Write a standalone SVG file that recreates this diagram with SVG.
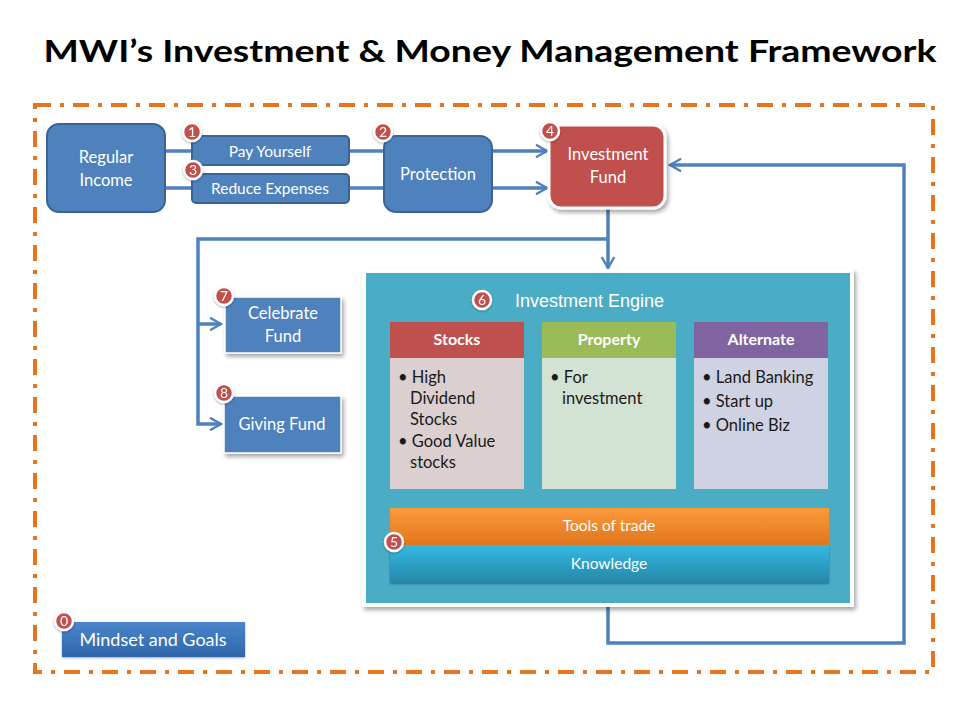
<svg xmlns="http://www.w3.org/2000/svg" width="960" height="720" viewBox="0 0 960 720">
<defs>
<style>
.t{font-family:Lato,"Liberation Sans",sans-serif;fill:#fff;text-anchor:middle}
.b{font-family:Lato,"Liberation Sans",sans-serif;fill:#1a1a1a;font-size:16.5px}
.blue{fill:#4F81BD;stroke:#3A6396;stroke-width:2}
.conn{fill:none;stroke:#4F81BD;stroke-width:3.5}
.badge circle{fill:#C0504D;stroke:#fff;stroke-width:2.5}
.badge text{font-family:Lato,"Liberation Sans",sans-serif;fill:#fff;font-size:14px;text-anchor:middle}
</style>
<filter id="sh" x="-10%" y="-10%" width="130%" height="130%"><feDropShadow dx="2" dy="3" stdDeviation="2" flood-color="#000" flood-opacity="0.35"/></filter>
<filter id="bs" x="-50%" y="-50%" width="200%" height="200%"><feDropShadow dx="0" dy="1" stdDeviation="1" flood-color="#000" flood-opacity="0.35"/></filter>
<marker id="ar" viewBox="0 0 10 10" refX="8" refY="5" markerWidth="4.5" markerHeight="4.5" orient="auto" markerUnits="strokeWidth"><path d="M1,1 L8,5 L1,9" fill="none" stroke="#4F81BD" stroke-width="1.5"/></marker>
<linearGradient id="gMind" x1="0" y1="0" x2="0" y2="1"><stop offset="0" stop-color="#4A86CC"/><stop offset="1" stop-color="#2F66A8"/></linearGradient>
<linearGradient id="gTools" x1="0" y1="0" x2="0" y2="1"><stop offset="0" stop-color="#FB9A3C"/><stop offset="1" stop-color="#E0761C"/></linearGradient>
<linearGradient id="gKnow" x1="0" y1="0" x2="0" y2="1"><stop offset="0" stop-color="#33B9E2"/><stop offset="1" stop-color="#2787A8"/></linearGradient>
</defs>
<rect width="960" height="720" fill="#fff"/>
<text x="490" y="62" font-family="Lato,'Liberation Sans',sans-serif" font-weight="bold" font-size="31" fill="#000" text-anchor="middle" textLength="893" lengthAdjust="spacingAndGlyphs">MWI’s Investment &amp; Money Management Framework</text>
<rect x="35" y="105" width="898" height="567" fill="none" stroke="#E8741E" stroke-width="4" stroke-dasharray="16 9 4 9"/>

<g id="connectors">
<path class="conn" d="M165,151 H192 M165,188 H192 M349,151 H384 M349,188 H384"/>
<path class="conn" d="M492,151 H547" marker-end="url(#ar)"/>
<path class="conn" d="M492,188 H547" marker-end="url(#ar)"/>
<path class="conn" d="M608,208 V268" marker-end="url(#ar)"/>
<path class="conn" d="M608,239 H198 V424 H221" marker-end="url(#ar)"/>
<path class="conn" d="M198,324 H221" marker-end="url(#ar)"/>
<path class="conn" d="M608,606 V643 H904 V165 H670" marker-end="url(#ar)"/>
</g>

<g id="regular-income">
<rect class="blue" x="47" y="124" width="118" height="88" rx="12"/>
<text class="t" x="106" y="163" font-size="16.5">Regular</text>
<text class="t" x="106" y="186" font-size="16.5">Income</text>
</g>
<g id="pay-yourself">
<rect class="blue" x="192" y="136" width="157" height="29" rx="4"/>
<text class="t" x="270" y="157" font-size="15.5">Pay Yourself</text>
<g class="badge" filter="url(#bs)"><circle cx="192" cy="132" r="9"/><text x="192" y="137">1</text></g>
</g>
<g id="reduce-expenses">
<rect class="blue" x="192" y="174" width="157" height="29" rx="4"/>
<text class="t" x="270" y="194" font-size="15.5">Reduce Expenses</text>
<g class="badge" filter="url(#bs)"><circle cx="193" cy="170" r="9"/><text x="193" y="175">3</text></g>
</g>
<g id="protection">
<rect class="blue" x="384" y="136" width="108" height="76" rx="12"/>
<text class="t" x="438" y="180" font-size="16.5">Protection</text>
<g class="badge" filter="url(#bs)"><circle cx="383" cy="132" r="9"/><text x="383" y="137">2</text></g>
</g>
<g id="investment-fund">
<rect x="549" y="125" width="116" height="83" rx="12" fill="#C0504D" stroke="#fff" stroke-width="3" filter="url(#sh)"/>
<text class="t" x="608" y="160" font-size="16.5">Investment</text>
<text class="t" x="608" y="183" font-size="16.5">Fund</text>
<g class="badge" filter="url(#bs)"><circle cx="550" cy="131" r="9"/><text x="550" y="136">4</text></g>
</g>
<g id="celebrate-fund">
<rect x="225" y="297" width="116" height="56" fill="#4F81BD" stroke="#fff" stroke-width="1.5" filter="url(#sh)"/>
<text class="t" x="283" y="319" font-size="16.5">Celebrate</text>
<text class="t" x="283" y="342" font-size="16.5">Fund</text>
<g class="badge" filter="url(#bs)"><circle cx="224" cy="296" r="9"/><text x="224" y="301">7</text></g>
</g>
<g id="giving-fund">
<rect x="224" y="396" width="117" height="57" fill="#4F81BD" stroke="#fff" stroke-width="1.5" filter="url(#sh)"/>
<text class="t" x="282" y="430" font-size="16.5">Giving Fund</text>
<g class="badge" filter="url(#bs)"><circle cx="224" cy="393" r="9"/><text x="224" y="398">8</text></g>
</g>

<g id="investment-engine">
<rect x="364" y="271" width="488" height="334" fill="#4BACC6" stroke="#fff" stroke-width="4" filter="url(#sh)"/>
<text x="515" y="307" font-family="'Liberation Sans',Arial,sans-serif" font-size="18" fill="#fff">Investment Engine</text>
<g class="badge" filter="url(#bs)"><circle cx="482" cy="300" r="9"/><text x="482" y="305">6</text></g>
</g>
<g id="stocks">
<rect x="390" y="358" width="134" height="131" fill="#DCCFCF"/>
<rect x="390" y="322" width="134" height="36" fill="#C0504D"/>
<text class="t" x="457" y="345" font-size="16" font-weight="bold">Stocks</text>
<text class="b" x="398" y="383">• High</text>
<text class="b" x="410" y="404">Dividend</text>
<text class="b" x="410" y="425">Stocks</text>
<text class="b" x="398" y="447">• Good Value</text>
<text class="b" x="410" y="468">stocks</text>
</g>
<g id="property">
<rect x="542" y="358" width="134" height="131" fill="#D2E2D3"/>
<rect x="542" y="322" width="134" height="36" fill="#9BBB59"/>
<text class="t" x="609" y="345" font-size="16" font-weight="bold">Property</text>
<text class="b" x="550" y="383">• For</text>
<text class="b" x="562" y="404">investment</text>
</g>
<g id="alternate">
<rect x="694" y="358" width="134" height="131" fill="#CFD2E2"/>
<rect x="694" y="322" width="134" height="36" fill="#8064A2"/>
<text class="t" x="761" y="345" font-size="16" font-weight="bold">Alternate</text>
<text class="b" x="702" y="383">• Land Banking</text>
<text class="b" x="702" y="407">• Start up</text>
<text class="b" x="702" y="431">• Online Biz</text>
</g>
<g id="tools-knowledge">
<rect x="390" y="545" width="439" height="38" fill="url(#gKnow)" filter="url(#bs)"/>
<rect x="390" y="508" width="439" height="37" fill="url(#gTools)"/>
<text class="t" x="609" y="531" font-size="15.5">Tools of trade</text>
<text class="t" x="609" y="569" font-size="15.5">Knowledge</text>
<g class="badge" filter="url(#bs)"><circle cx="394" cy="542" r="9"/><text x="394" y="547">5</text></g>
</g>
<g id="mindset">
<rect x="62" y="622" width="183" height="35" fill="url(#gMind)" filter="url(#bs)"/>
<text class="t" x="153" y="646" font-size="18">Mindset and Goals</text>
<g class="badge" filter="url(#bs)"><circle cx="64" cy="621" r="9"/><text x="64" y="626">0</text></g>
</g>
</svg>
